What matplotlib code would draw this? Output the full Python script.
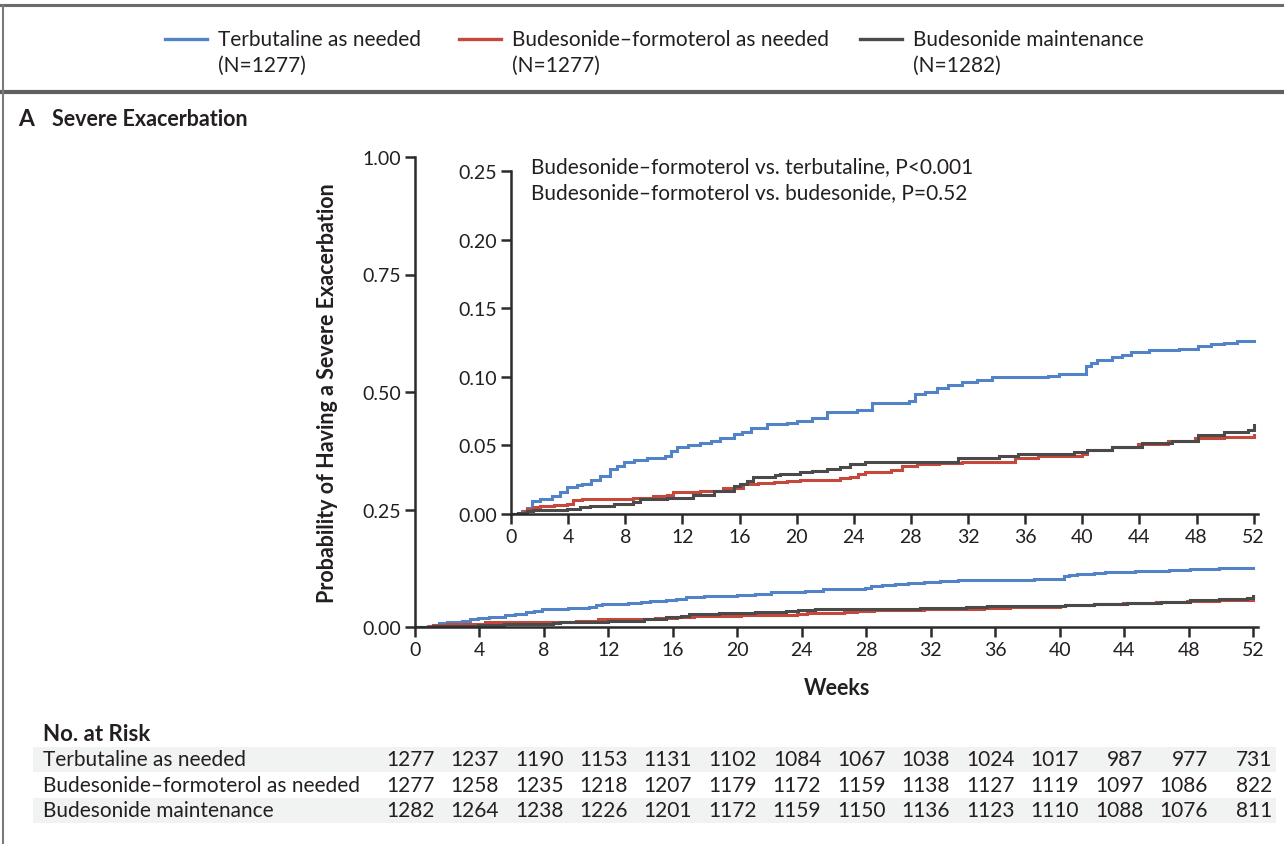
import matplotlib
matplotlib.use("Agg")
import matplotlib.pyplot as plt
from matplotlib.lines import Line2D
from matplotlib.patches import Rectangle
from matplotlib.transforms import blended_transform_factory

plt.rcParams['font.family'] = ['Lato', 'DejaVu Sans']

W, H = 1284, 845

# cumulative incidence of first severe exacerbation (Kaplan-Meier steps)
weeks_terb = [0, 0.8, 1.1, 1.5, 2.0, 2.9, 3.4, 3.9, 4.6, 5.0, 5.6, 6.2, 6.9, 7.4, 7.9,
              8.6, 9.5, 10.8, 11.2, 11.6, 12.4, 13.2, 14.0, 14.6, 15.6, 16.2, 16.8,
              17.9, 19.3, 20.0, 21.1, 22.1, 24.2, 25.3, 27.9, 28.3, 29.0, 29.8, 30.6,
              31.6, 32.6, 33.7, 37.6, 38.4, 40.26, 40.6, 41.06, 42.1, 42.8, 43.4,
              44.7, 46.8, 48.1, 49.0, 49.9, 50.8, 52.0]
prob_terb = [0, 0.002, 0.0045, 0.0095, 0.011, 0.0133, 0.016, 0.0194, 0.021, 0.022,
             0.025, 0.028, 0.0328, 0.035, 0.0377, 0.039, 0.041, 0.0425, 0.046, 0.0486,
             0.050, 0.052, 0.0535, 0.0554, 0.058, 0.060, 0.063, 0.0656, 0.0665, 0.068,
             0.0697, 0.0743, 0.076, 0.0809, 0.0821, 0.0875, 0.089, 0.0916, 0.094,
             0.0964, 0.098, 0.0996, 0.1005, 0.102, 0.108, 0.110, 0.112, 0.1141, 0.116,
             0.1178, 0.1197, 0.1205, 0.1227, 0.124, 0.125, 0.126, 0.126]

weeks_bf = [0, 0.9, 1.1, 1.6, 2.0, 3.0, 3.9, 4.36, 5.0, 6.5, 8.55, 9.97, 10.9, 11.37,
            13.2, 14.87, 16.27, 17.3, 18.4, 19.3, 20.25, 23.0, 23.7, 24.3, 24.8, 26.6,
            27.4, 28.45, 30.0, 31.6, 35.3, 36.9, 40.0, 40.3, 42.1, 43.9, 46.0, 47.9,
            49.9, 52.0]
prob_bf = [0, 0.002, 0.0036, 0.005, 0.006, 0.0068, 0.0073, 0.0104, 0.0106, 0.011,
           0.0114, 0.013, 0.0138, 0.0163, 0.017, 0.0187, 0.0219, 0.0228, 0.0235,
           0.0243, 0.025, 0.026, 0.0272, 0.029, 0.0308, 0.0323, 0.0348, 0.0364, 0.037,
           0.0381, 0.0405, 0.0425, 0.0437, 0.0469, 0.0486, 0.051, 0.0535, 0.0554,
           0.0564, 0.0576]

weeks_bud = [0, 0.5, 1.1, 1.55, 3.9, 4.8, 5.54, 7.2, 8.55, 9.0, 10.9, 12.0, 12.77,
             14.2, 15.6, 16.0, 16.5, 16.97, 18.5, 18.85, 20.25, 21.1, 22.1, 23.0, 23.75,
             24.8, 31.3, 34.2, 35.5, 39.45, 40.3, 42.1, 44.2, 46.3, 48.1, 49.9, 51.6,
             52.0]
prob_bud = [0, 0.001, 0.002, 0.003, 0.004, 0.005, 0.006, 0.0073, 0.009, 0.011, 0.0114,
            0.012, 0.0138, 0.017, 0.0206, 0.022, 0.0243, 0.0267, 0.0284, 0.029, 0.0304,
            0.031, 0.0328, 0.034, 0.0364, 0.0381, 0.0405, 0.042, 0.0437, 0.045, 0.0469,
            0.0486, 0.0518, 0.0535, 0.0578, 0.0595, 0.0615, 0.0649]

groups = ['Terbutaline as needed', 'Budesonide\u2013formoterol as needed',
          'Budesonide maintenance']
group_n = [1277, 1277, 1282]
colors = ['#5283c6', '#c4483c', '#4a4a4a']

risk_weeks = list(range(0, 53, 4))
risk_terb = [1277, 1237, 1190, 1153, 1131, 1102, 1084, 1067, 1038, 1024, 1017, 987, 977, 731]
risk_bf = [1277, 1258, 1235, 1218, 1207, 1179, 1172, 1159, 1138, 1127, 1119, 1097, 1086, 822]
risk_bud = [1282, 1264, 1238, 1226, 1201, 1172, 1159, 1150, 1136, 1123, 1110, 1088, 1076, 811]

curves = [(weeks_terb, prob_terb), (weeks_bf, prob_bf), (weeks_bud, prob_bud)]
risks = [risk_terb, risk_bf, risk_bud]

txt = '#231f20'
spine_c = '#2b2b2b'
fs = 15


def fx(x):
    return x / W


def fy(y):
    return 1 - y / H


def style_axes(a):
    for s in ['top', 'right']:
        a.spines[s].set_visible(False)
    for s in ['left', 'bottom']:
        a.spines[s].set_linewidth(1.8)
        a.spines[s].set_color(spine_c)
    a.tick_params(direction='out', length=7, width=1.8, color=spine_c,
                  labelsize=14, labelcolor=txt, pad=3)
    a.set_xlim(0, 52.3)
    a.set_xticks(risk_weeks)


fig = plt.figure(figsize=(W / 100, H / 100), dpi=100)

# header frame
fig.add_artist(Line2D([0, 1], [fy(6), fy(6)], color='#6b6b6b', lw=2.2))
fig.add_artist(Line2D([0, 1], [fy(93), fy(93)], color='#5f5f5f', lw=3.0))
fig.add_artist(Line2D([fx(3), fx(3)], [0, fy(6)], color='#7a7a7a', lw=1.5))

# legend in header
leg_x = [165, 459, 860]
for x0, name, n, c in zip(leg_x, groups, group_n, colors):
    fig.add_artist(Line2D([fx(x0), fx(x0 + 42)], [fy(40), fy(40)], color=c, lw=2.4))
    fig.text(fx(x0 + 53), fy(40), name, fontsize=fs, color=txt, va='center')
    fig.text(fx(x0 + 53), fy(66), '(N=%d)' % n, fontsize=fs, color=txt, va='center')

fig.text(fx(18), fy(120), 'A', fontsize=16.5, fontweight='bold', color=txt, va='center')
fig.text(fx(52), fy(120), 'Severe Exacerbation', fontsize=15.5, fontweight='bold',
         color=txt, va='center')

# main axes, full probability scale
ax = fig.add_axes([fx(415), fy(628), fx(1258 - 415), (628 - 158) / H])
style_axes(ax)
ax.set_ylim(0, 1)
ax.set_yticks([0, 0.25, 0.5, 0.75, 1.0])
ax.set_yticklabels(['0.00', '0.25', '0.50', '0.75', '1.00'])
for (wk, pr), c in zip(curves, colors):
    ax.plot(wk, pr, drawstyle='steps-post', color=c, lw=2.2, solid_joinstyle='miter')
ax.set_xlabel('Weeks', fontsize=15.5, fontweight='bold', color=txt, labelpad=14)
fig.text(fx(327), fy(393), 'Probability of Having a Severe Exacerbation',
         rotation=90, fontsize=15.5, fontweight='bold', color=txt,
         ha='center', va='center')

# inset, zoomed to 0-0.25
axi = fig.add_axes([fx(511), fy(515), fx(1258 - 511), (515 - 172) / H])
style_axes(axi)
axi.set_facecolor('none')
axi.set_ylim(0, 0.25)
axi.set_yticks([0, 0.05, 0.10, 0.15, 0.20, 0.25])
axi.set_yticklabels(['0.00', '0.05', '0.10', '0.15', '0.20', '0.25'])
for (wk, pr), c in zip(curves, colors):
    axi.plot(wk, pr, drawstyle='steps-post', color=c, lw=2.2, solid_joinstyle='miter')
fig.text(fx(531), fy(167), 'Budesonide\u2013formoterol vs. terbutaline, P<0.001',
         fontsize=fs, color=txt, va='center')
fig.text(fx(531), fy(193), 'Budesonide\u2013formoterol vs. budesonide, P=0.52',
         fontsize=fs, color=txt, va='center')

# number at risk table
fig.text(fx(43), fy(735), 'No. at Risk', fontsize=16, fontweight='bold', color=txt,
         va='center')
row_y = [760, 786, 811]
for i in (0, 2):
    fig.add_artist(Rectangle((fx(33), fy(row_y[i] + 12.5)), fx(1276 - 33), 25 / H,
                             facecolor='#f1f2f2', edgecolor='none', zorder=0))
tr = blended_transform_factory(ax.transData, fig.transFigure)
for name, counts, yy in zip(groups, risks, row_y):
    fig.text(fx(43), fy(yy), name, fontsize=fs, color=txt, va='center')
    for wk, n in zip(risk_weeks, counts):
        ax.text(wk + 1.2, fy(yy), str(n), transform=tr, fontsize=fs, color=txt,
                ha='right', va='center', clip_on=False)

fig.savefig('out.png', dpi=100)
